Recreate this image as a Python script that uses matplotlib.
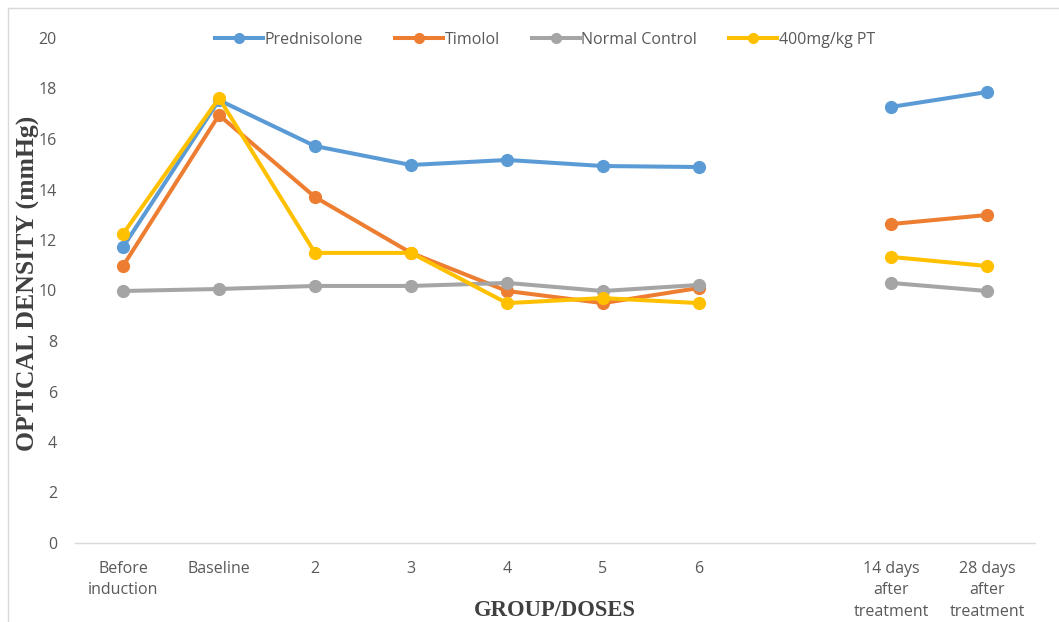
import numpy as np
import matplotlib
matplotlib.use("Agg")
import matplotlib.pyplot as plt
from matplotlib.lines import Line2D

categories = ["Before\ninduction", "Baseline", "2", "3", "4", "5", "6", "",
              "14 days\nafter\ntreatment", "28 days\nafter\ntreatment"]
prednisolone = [11.72, 17.54, 15.72, 14.97, 15.17, 14.93, 14.89, np.nan, 17.27, 17.86]
timolol = [10.97, 16.95, 13.70, 11.49, 9.98, 9.50, 10.10, np.nan, 12.63, 12.99]
normal_control = [9.98, 10.06, 10.18, 10.18, 10.30, 9.98, 10.22, np.nan, 10.30, 9.98]
pt400 = [12.24, 17.62, 11.49, 11.49, 9.50, 9.70, 9.50, np.nan, 11.33, 10.97]

series = [("Prednisolone", prednisolone, "#5B9BD5"),
          ("Timolol", timolol, "#ED7D31"),
          ("Normal Control", normal_control, "#A5A5A5"),
          ("400mg/kg PT", pt400, "#FFC000")]

W, H = 1059, 622
fig = plt.figure(figsize=(W / 100, H / 100), dpi=100)
ax = fig.add_axes([75 / W, (H - 543) / H, (1035 - 75) / W, (543 - 38) / H])

x = np.arange(len(categories))
for name, vals, col in series:
    ax.plot(x, vals, color=col, lw=2.9, marker="o", markersize=8.5,
            solid_capstyle="round", label=name, zorder=3)

ax.set_xlim(-0.5, len(categories) - 0.5)
ax.set_ylim(0, 20)
ax.set_yticks(np.arange(0, 21, 2))
ax.set_xticks(x)
ax.set_xticklabels(categories, linespacing=1.45)
tick_font = "Open Sans"
for lab in ax.get_xticklabels() + ax.get_yticklabels():
    lab.set_fontfamily(tick_font)
    lab.set_fontsize(11.5)
    lab.set_color("#595959")
ax.tick_params(axis="both", length=0)
ax.tick_params(axis="y", pad=13)
ax.tick_params(axis="x", pad=13)
for s in ["top", "right", "left"]:
    ax.spines[s].set_visible(False)
ax.spines["bottom"].set_color("#D9D9D9")
ax.spines["bottom"].set_linewidth(1.0)

ax.set_ylabel("OPTICAL DENSITY (mmHg)", fontfamily="Liberation Serif",
              fontweight="bold", fontsize=18.5, color="#404040")
ax.yaxis.set_label_coords((28 - 75) / (1035 - 75), (543 - 283) / (543 - 38))
ax.yaxis.label.set_va("center")
fig.text(555 / W, 1 - 610 / H, "GROUP/DOSES", ha="center", va="center",
         fontfamily="Liberation Serif", fontweight="bold", fontsize=16.3,
         color="#404040")

handles = [Line2D([0], [0], color=c, lw=2.9, marker="o", markersize=7)
           for _, _, c in series]
leg = fig.legend(handles, [n for n, _, _ in series], loc="center",
                 bbox_to_anchor=(545 / W, 1 - 40 / H), ncol=4, frameon=False,
                 handlelength=3.0, handletextpad=0.1, columnspacing=2.0,
                 prop={"family": tick_font, "size": 11.5})
for t in leg.get_texts():
    t.set_color("#595959")

# chart border (top and left visible)
fig.add_artist(Line2D([8 / W, 8 / W], [0, 1 - 8 / H], transform=fig.transFigure,
                      color="#D9D9D9", lw=1.0))
fig.add_artist(Line2D([8 / W, 1], [1 - 8 / H, 1 - 8 / H], transform=fig.transFigure,
                      color="#D9D9D9", lw=1.0))

fig.savefig("out.png", dpi=100)
